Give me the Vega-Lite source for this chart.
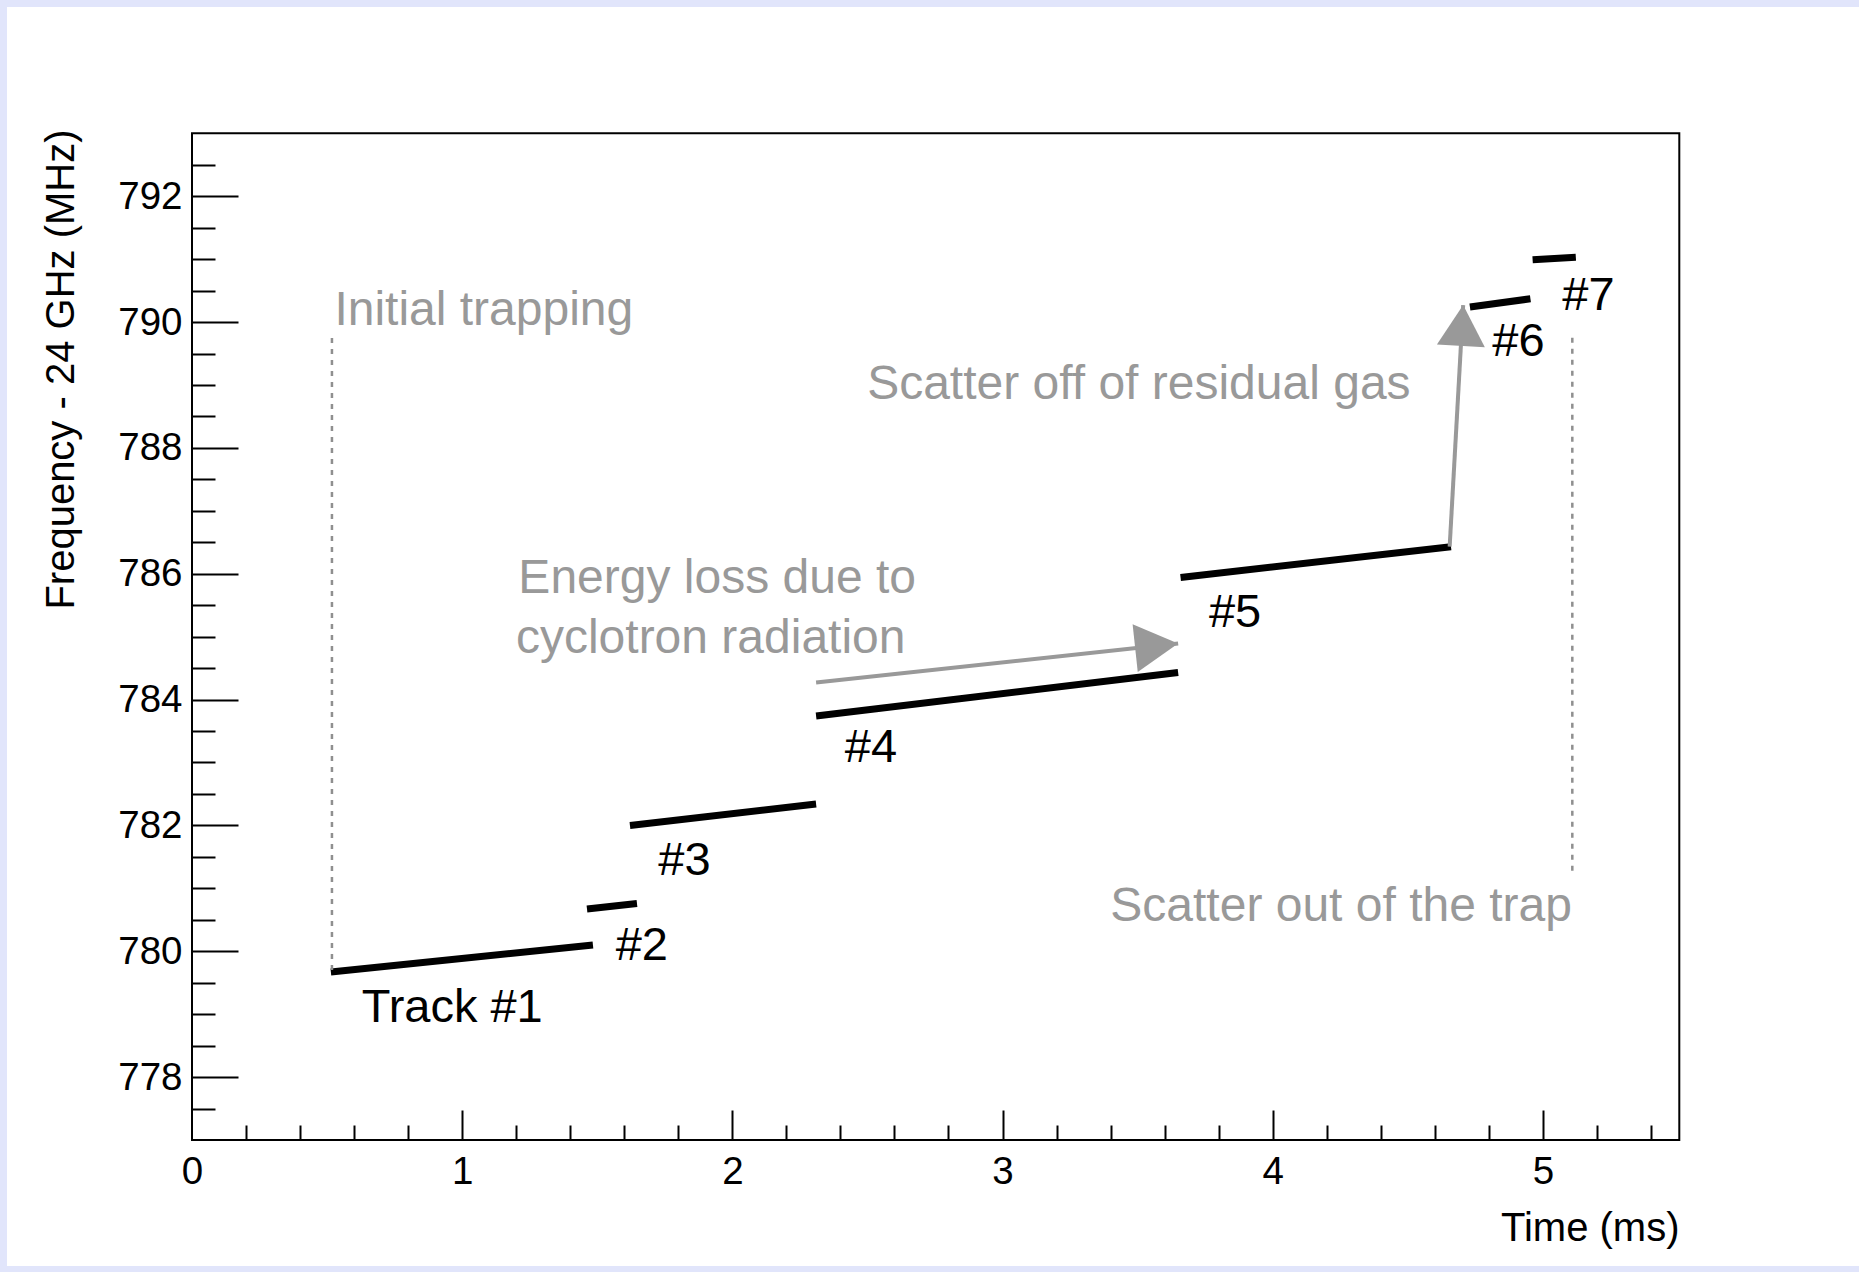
{
  "$schema": "https://vega.github.io/schema/vega-lite/v6.json",
  "width": 1852,
  "height": 1259,
  "autosize": {"type": "none"},
  "padding": {"left": 7, "top": 7, "right": 0, "bottom": 6},
  "background": "#e1e5fb",
  "config": {
    "view": {"fill": "#ffffff", "stroke": null},
    "font": "Liberation Sans"
  },
  "datasets": {
    "tracks": [
      {"track": 1, "t0": 0.514, "f0": 779.67, "t1": 1.484, "f1": 780.10},
      {"track": 2, "t0": 1.462, "f0": 780.67, "t1": 1.647, "f1": 780.76},
      {"track": 3, "t0": 1.621, "f0": 782.00, "t1": 2.310, "f1": 782.34},
      {"track": 4, "t0": 2.310, "f0": 783.74, "t1": 3.650, "f1": 784.43},
      {"track": 5, "t0": 3.659, "f0": 785.94, "t1": 4.660, "f1": 786.43},
      {"track": 6, "t0": 4.730, "f0": 790.24, "t1": 4.954, "f1": 790.37},
      {"track": 7, "t0": 4.962, "f0": 790.99, "t1": 5.122, "f1": 791.03}
    ],
    "boundaries": [
      {"event": "Initial trapping", "t": 0.518, "f0": 779.70, "f1": 789.84},
      {"event": "Scatter out of the trap", "t": 5.109, "f0": 781.28, "f1": 789.84}
    ],
    "arrows": [
      {"process": "radiation", "t0": 2.310, "f0": 784.27, "t1": 3.650, "f1": 784.89},
      {"process": "scatter", "t0": 4.655, "f0": 786.43, "t1": 4.705, "f1": 790.27}
    ],
    "trackLabels": [
      {"label": "Track #1", "t": 0.628, "f": 778.88},
      {"label": "#2", "t": 1.568, "f": 779.855},
      {"label": "#3", "t": 1.726, "f": 781.21},
      {"label": "#4", "t": 2.416, "f": 783.00},
      {"label": "#5", "t": 3.764, "f": 785.16},
      {"label": "#6", "t": 4.813, "f": 789.46},
      {"label": "#7", "t": 5.072, "f": 790.19}
    ],
    "notes": [
      {"note": "Initial trapping", "t": 0.527, "f": 789.95},
      {"note": "Energy loss due to", "t": 1.208, "f": 785.70},
      {"note": "cyclotron radiation", "t": 1.199, "f": 784.74},
      {"note": "Scatter off of residual gas", "t": 2.499, "f": 788.77},
      {"note": "Scatter out of the trap", "t": 3.399, "f": 780.48}
    ]
  },
  "resolve": {"axis": {"x": "independent", "y": "independent"}},
  "layer": [
    {
      "data": {"values": [{}]},
      "mark": {"type": "rect", "filled": false, "color": "#000000", "strokeWidth": 2},
      "encoding": {
        "x": {
          "datum": 0,
          "type": "quantitative",
          "scale": {"domain": [0, 5.505], "range": [185, 1672.3], "nice": false, "zero": false},
          "axis": {
            "orient": "bottom",
            "offset": -126,
            "values": [0, 1, 2, 3, 4, 5],
            "format": "d",
            "domain": false,
            "ticks": false,
            "grid": false,
            "labelFont": "Liberation Sans",
            "labelFontSize": 38.5,
            "labelColor": "#000000",
            "labelPadding": 43,
            "labelBaseline": "alphabetic",
            "labelFlush": false,
            "labelOverlap": false,
            "title": "Time (ms)",
            "titleFont": "Liberation Sans",
            "titleFontSize": 40,
            "titleFontWeight": "normal",
            "titleColor": "#000000",
            "titleAlign": "right",
            "titleBaseline": "alphabetic",
            "titleX": 1672,
            "titleY": 100
          }
        },
        "x2": {"datum": 5.505},
        "y": {
          "datum": 777,
          "type": "quantitative",
          "scale": {"domain": [777, 793], "range": [1133, 126.3], "nice": false, "zero": false},
          "axis": {
            "orient": "left",
            "offset": -185,
            "values": [778, 780, 782, 784, 786, 788, 790, 792],
            "format": "d",
            "domain": false,
            "ticks": false,
            "grid": false,
            "labelFont": "Liberation Sans",
            "labelFontSize": 38.5,
            "labelColor": "#000000",
            "labelPadding": 10,
            "labelAlign": "right",
            "labelBaseline": "middle",
            "labelFlush": false,
            "labelOverlap": false,
            "title": "Frequency - 24 GHz (MHz)",
            "titleFont": "Liberation Sans",
            "titleFontSize": 40,
            "titleFontWeight": "normal",
            "titleColor": "#000000",
            "titleAngle": 270,
            "titleAlign": "right",
            "titleBaseline": "alphabetic",
            "titleX": -119,
            "titleY": 122
          }
        },
        "y2": {"datum": 793}
      }
    },
    {
      "data": {"name": "tracks"},
      "mark": {"type": "rule", "color": "#000000", "strokeWidth": 7, "strokeCap": "butt"},
      "encoding": {
        "x": {
          "field": "t0",
          "type": "quantitative",
          "axis": {
            "orient": "bottom",
            "offset": -126,
            "values": [0.2, 0.4, 0.6, 0.8, 1, 1.2, 1.4, 1.6, 1.8, 2, 2.2, 2.4, 2.6, 2.8, 3, 3.2, 3.4, 3.6, 3.8, 4, 4.2, 4.4, 4.6, 4.8, 5, 5.2, 5.4],
            "domain": false,
            "labels": false,
            "grid": false,
            "title": null,
            "ticks": true,
            "tickColor": "#000000",
            "tickWidth": 2,
            "tickSize": {"condition": {"test": "datum.value % 1 === 0", "value": -30}, "value": -15}
          }
        },
        "x2": {"field": "t1"},
        "y": {
          "field": "f0",
          "type": "quantitative",
          "axis": {
            "orient": "left",
            "offset": -185,
            "values": [777.5, 778, 778.5, 779, 779.5, 780, 780.5, 781, 781.5, 782, 782.5, 783, 783.5, 784, 784.5, 785, 785.5, 786, 786.5, 787, 787.5, 788, 788.5, 789, 789.5, 790, 790.5, 791, 791.5, 792, 792.5],
            "domain": false,
            "labels": false,
            "grid": false,
            "title": null,
            "ticks": true,
            "tickColor": "#000000",
            "tickWidth": 2,
            "tickSize": {"condition": {"test": "datum.value % 2 === 0", "value": -46}, "value": -23}
          }
        },
        "y2": {"field": "f1"}
      }
    },
    {
      "data": {"name": "boundaries"},
      "mark": {"type": "rule", "color": "#8f8f8f", "strokeWidth": 2.5, "strokeDash": [5, 6]},
      "encoding": {
        "x": {"field": "t", "type": "quantitative", "axis": null},
        "y": {"field": "f0", "type": "quantitative", "axis": null},
        "y2": {"field": "f1"}
      }
    },
    {
      "data": {"name": "arrows"},
      "mark": {"type": "rule", "color": "#999999", "strokeWidth": 4, "strokeCap": "butt"},
      "encoding": {
        "x": {"field": "t0", "type": "quantitative", "axis": null},
        "x2": {"field": "t1"},
        "y": {"field": "f0", "type": "quantitative", "axis": null},
        "y2": {"field": "f1"}
      }
    },
    {
      "data": {"name": "arrows"},
      "transform": [{"filter": "datum.process === 'radiation'"}],
      "mark": {"type": "point", "filled": true, "color": "#999999", "opacity": 1, "strokeWidth": 0, "shape": "M0,0L-1.8,-1L-1.8,1Z", "size": 2304},
      "encoding": {
        "x": {"field": "t1", "type": "quantitative", "axis": null},
        "y": {"field": "f1", "type": "quantitative", "axis": null},
        "angle": {"value": 353.85}
      }
    },
    {
      "data": {"name": "arrows"},
      "transform": [{"filter": "datum.process === 'scatter'"}],
      "mark": {"type": "point", "filled": true, "color": "#999999", "opacity": 1, "strokeWidth": 0, "shape": "M0,0L-1.7,-1L-1.7,1Z", "size": 2304},
      "encoding": {
        "x": {"field": "t1", "type": "quantitative", "axis": null},
        "y": {"field": "f1", "type": "quantitative", "axis": null},
        "angle": {"value": 273.2}
      }
    },
    {
      "data": {"name": "trackLabels"},
      "mark": {"type": "text", "font": "Liberation Sans", "fontSize": 47, "color": "#000000", "align": "left", "baseline": "alphabetic"},
      "encoding": {
        "x": {"field": "t", "type": "quantitative", "axis": null},
        "y": {"field": "f", "type": "quantitative", "axis": null},
        "text": {"field": "label"}
      }
    },
    {
      "data": {"name": "notes"},
      "mark": {"type": "text", "font": "Liberation Sans", "fontSize": 48, "color": "#999999", "align": "left", "baseline": "alphabetic"},
      "encoding": {
        "x": {"field": "t", "type": "quantitative", "axis": null},
        "y": {"field": "f", "type": "quantitative", "axis": null},
        "text": {"field": "note"}
      }
    }
  ]
}
